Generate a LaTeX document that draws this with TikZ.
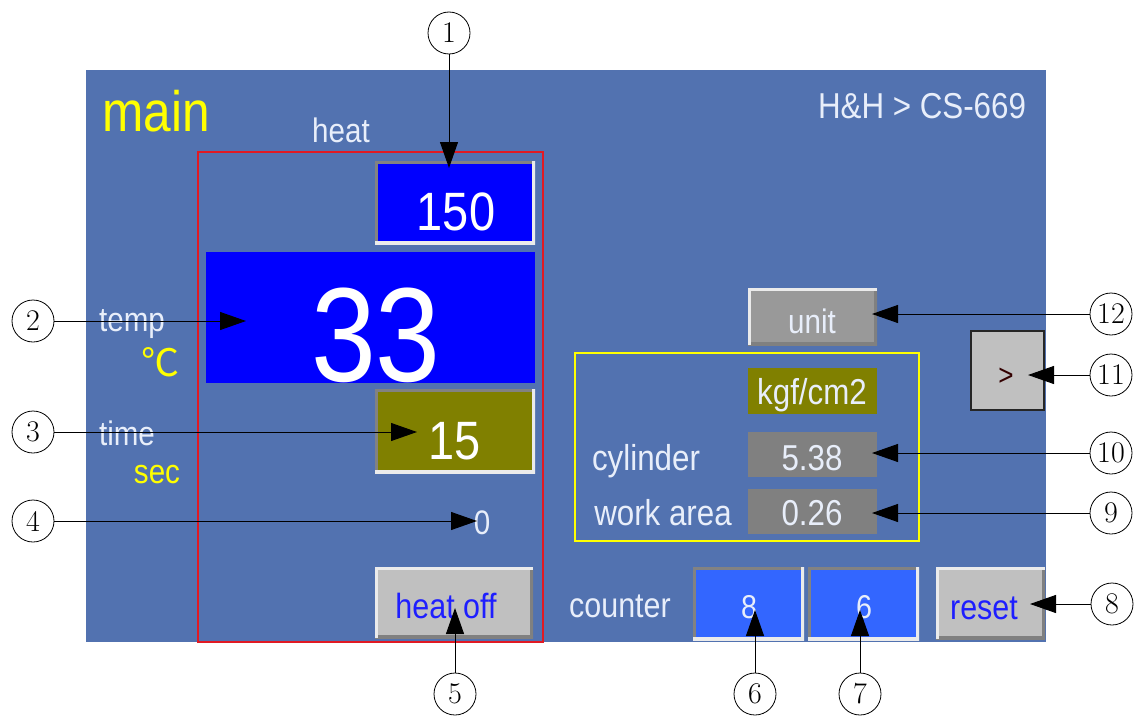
\documentclass[tikz,border=0pt]{standalone}
\usepackage{fontspec}
\newfontfamily\ui[FakeStretch=0.87]{Liberation Sans}
\newfontfamily\cjk{Noto Sans CJK SC}
\usetikzlibrary{arrows.meta}
\definecolor{panel}{RGB}{82,114,176}
\definecolor{vblue}{RGB}{0,0,255}
\definecolor{cblue}{RGB}{51,102,255}
\definecolor{olivec}{RGB}{128,128,0}
\definecolor{lgray}{RGB}{192,192,192}
\definecolor{mgray}{RGB}{153,153,153}
\definecolor{dgray}{RGB}{128,128,128}
\definecolor{bevdark}{RGB}{130,130,130}
\definecolor{bevlight}{RGB}{235,235,235}
\definecolor{redc}{RGB}{225,25,35}
\definecolor{yel}{RGB}{255,255,0}
\definecolor{txt}{RGB}{232,238,250}
\definecolor{btxt}{RGB}{30,30,255}
\begin{document}
\begin{tikzpicture}[x=1pt,y=-1pt,
  fs/.style={font=\ui\fontsize{#1}{#1}\selectfont, inner sep=0pt},
  box/.style={anchor=north west, inner sep=0pt, minimum width=#1},
  sunken/.style={path picture={
    \draw[line width=6pt,bevdark] (path picture bounding box.south west) |- (path picture bounding box.north east);
    \draw[line width=6pt,bevlight] (path picture bounding box.south west) -| (path picture bounding box.north east);}},
  raised/.style={path picture={
    \draw[line width=6pt,dgray] (path picture bounding box.south west) -| (path picture bounding box.north east);
    \draw[line width=6pt,bevlight] (path picture bounding box.south west) |- (path picture bounding box.north east);}},
  num/.style={circle, draw=black, line width=0.8pt, fill=white, minimum size=42pt, inner sep=0pt,
    font=\rmfamily\fontsize{30}{30}\selectfont},
  callout/.style={draw=black, line width=1pt, -{Triangle[length=26pt,width=18pt]}}]
\useasboundingbox (0,0) rectangle (1137,717);

% panel
\node[box=960, minimum height=572, fill=panel] (panel) at (86,70) {};

% heat group frame
\node[box=345, minimum height=490, draw=redc, line width=2pt] (heatgrp) at (197,151) {};

% boxes
\node[box=160, minimum height=83, fill=vblue, sunken] (b150) at (375,161) {};
\node[box=329, minimum height=131, fill=vblue] (b33) at (206,252) {};
\node[box=160, minimum height=84, fill=olivec, sunken] (b15) at (375,389) {};
\node[box=158, minimum height=71, fill=lgray, raised] (bheatoff) at (375,567) {};
\node[box=129, minimum height=57, fill=mgray, raised] (bunit) at (748,288) {};
\node[box=73, minimum height=79, fill=lgray, draw=black!85, line width=2pt] (bnext) at (970,330) {};
\node[box=344, minimum height=188, draw=yel, line width=1.6pt] (pgrp) at (574,352) {};
\node[box=129, minimum height=46, fill=olivec] (bkgf) at (748,368) {};
\node[box=129, minimum height=45, fill=dgray] (bcyl) at (748,432) {};
\node[box=129, minimum height=45, fill=dgray] (bwork) at (748,489) {};
\node[box=111, minimum height=73, fill=cblue, sunken] (bc1) at (693,567) {};
\node[box=111, minimum height=73, fill=cblue, sunken] (bc2) at (808,567) {};
\node[box=109, minimum height=72, fill=lgray, raised] (breset) at (936,567) {};

% texts
\node[fs=57, text=yel, anchor=base] (tmain) at (156,131) {main};
\node[fs=34, text=txt, anchor=base] (theat) at (341,142) {heat};
\node[fs=36, text=txt, anchor=base] (ttitle) at (922,118) {H\&H > CS-669};
\node[fs=54, text=white, anchor=base] (t150) at (456,230) {150};
\node[fs=134, text=white, anchor=base] (t33) at (376,381) {33};
\node[fs=34, text=txt, anchor=base] (ttemp) at (132,331) {temp};
\node[font=\cjk\fontsize{38}{38}\selectfont, text=yel, inner sep=0pt] (tdeg) at (160,362) {℃};
\node[fs=54, text=white, anchor=base] (t15) at (455,459) {15};
\node[fs=34, text=txt, anchor=base] (ttime) at (127,445) {time};
\node[fs=34, text=yel, anchor=base] (tsec) at (157,483) {sec};
\node[fs=34, text=txt, anchor=base] (tzero) at (482,534) {0};
\node[fs=35, text=btxt, anchor=base] (theatoff) at (446,618) {heat off};
\node[fs=35, text=txt, anchor=base] (tcounter) at (620,617) {counter};
\node[fs=33, text=txt, anchor=base] (tc1) at (749,618) {8};
\node[fs=33, text=txt, anchor=base] (tc2) at (864,618) {6};
\node[fs=35, text=btxt, anchor=base] (treset) at (984,619) {reset};
\node[fs=34, text=txt, anchor=base] (tunit) at (812,333) {unit};
\node[fs=30, text=black!80!red, anchor=base] (tnext) at (1006,385) {>};
\node[fs=36, text=txt, anchor=base] (tkgf) at (812,404) {kgf/cm2};
\node[fs=36, text=txt, anchor=base] (tcylinder) at (646,470) {cylinder};
\node[fs=36, text=txt, anchor=base] (tcylv) at (812,470) {5.38};
\node[fs=36, text=txt, anchor=base] (twork) at (663,525) {work area};
\node[fs=36, text=txt, anchor=base] (tworkv) at (812,525) {0.26};

% callout numbers
\node[num] (c1) at (449,33) {1};
\node[num] (c2) at (33,321) {2};
\node[num] (c3) at (33,432) {3};
\node[num] (c4) at (33,521) {4};
\node[num] (c5) at (455,694) {5};
\node[num] (c6) at (755,694) {6};
\node[num] (c7) at (860,694) {7};
\node[num] (c8) at (1112,604) {8};
\node[num] (c9) at (1111,513) {9};
\node[num] (c10) at (1111,453) {10};
\node[num] (c11) at (1111,375) {11};
\node[num] (c12) at (1111,314) {12};

\coordinate (p1) at (449,168);
\coordinate (p2) at (246,321);
\coordinate (p3) at (417,432);
\coordinate (p4) at (477,521);
\coordinate (p5) at (455,608);
\coordinate (p6) at (755,610);
\coordinate (p7) at (860,610);
\coordinate (p8) at (1030,604);
\coordinate (p9) at (872,513);
\coordinate (p10) at (872,453);
\coordinate (p11) at (1028,375);
\coordinate (p12) at (872,314);

\foreach \i in {1,...,12} {\draw[callout] (c\i) -- (p\i);}
\end{tikzpicture}
\end{document}
